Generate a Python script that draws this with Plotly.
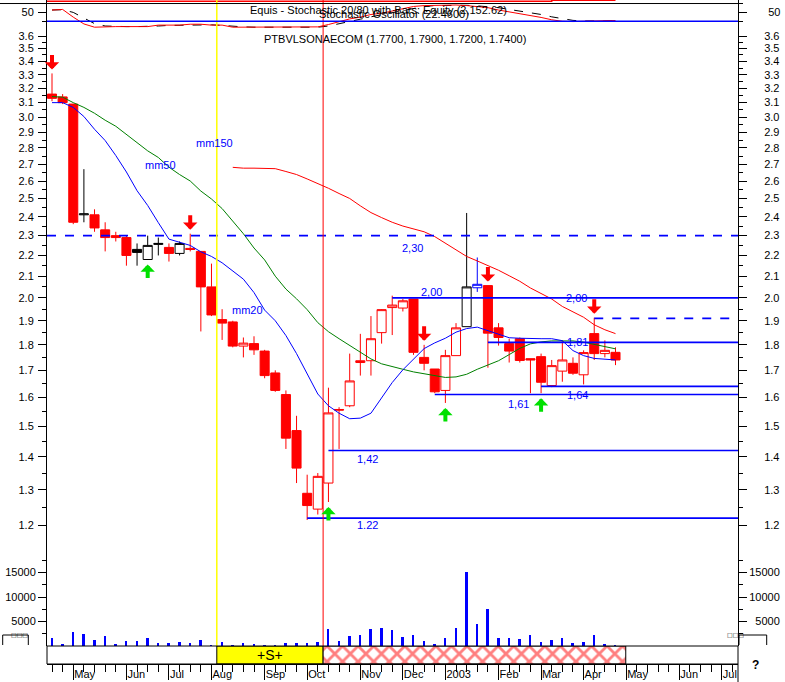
import numpy as np
import pandas as pd
import plotly.graph_objects as go

# ---------------- data ----------------
week_dates = pd.date_range("2002-04-19", periods=54, freq="7D")

open_px = [3.16, 3.14, 3.09, 2.41, 2.41, 2.33, 2.30, 2.29, 2.23, 2.18,
           2.255, 2.24, 2.21, 2.235, 2.22, 2.05, 1.905, 1.895, 1.795, 1.805,
           1.775, 1.69, 1.61, 1.485, 1.29, 1.245, 1.32, 1.557, 1.57, 1.73,
           1.737, 1.85, 1.957, 1.955, 1.995, 1.75, 1.705, 1.625, 1.757, 1.875,
           2.046, 2.056, 1.87, 1.805, 1.825, 1.745, 1.753, 1.643, 1.697, 1.727,
           1.683, 1.846, 1.765, 1.77]
high_px = [3.31, 3.16, 3.09, 2.67, 2.44, 2.37, 2.32, 2.30, 2.26, 2.30,
           2.29, 2.26, 2.27, 2.31, 2.22, 2.16, 1.95, 1.90, 1.83, 1.835,
           1.78, 1.70, 1.625, 1.535, 1.345, 1.35, 1.635, 1.565, 1.765, 1.845,
           1.92, 1.95, 2.01, 1.995, 1.995, 1.80, 1.705, 1.78, 1.89, 2.42,
           2.19, 2.056, 1.89, 1.825, 1.83, 1.745, 1.765, 1.74, 1.818, 1.75,
           1.778, 1.913, 1.818, 1.79]
low_px = [3.11, 3.09, 2.36, 2.37, 2.32, 2.22, 2.27, 2.15, 2.15, 2.18,
          2.20, 2.17, 2.20, 2.22, 1.855, 1.92, 1.82, 1.79, 1.75, 1.76,
          1.67, 1.62, 1.425, 1.32, 1.215, 1.23, 1.265, 1.425, 1.565, 1.68,
          1.68, 1.805, 1.84, 1.94, 1.76, 1.70, 1.615, 1.58, 1.757, 1.875,
          2.027, 1.71, 1.797, 1.73, 1.73, 1.615, 1.615, 1.637, 1.657, 1.683,
          1.647, 1.74, 1.75, 1.72]
close_px = [3.13, 3.10, 2.37, 2.415, 2.34, 2.29, 2.29, 2.20, 2.215, 2.25,
            2.26, 2.21, 2.26, 2.23, 2.05, 1.925, 1.89, 1.795, 1.807, 1.78,
            1.68, 1.625, 1.46, 1.365, 1.255, 1.34, 1.545, 1.555, 1.66, 1.737,
            1.825, 1.948, 1.968, 1.987, 1.77, 1.727, 1.62, 1.757, 1.87, 2.05,
            2.062, 1.848, 1.83, 1.775, 1.738, 1.74, 1.655, 1.718, 1.74, 1.689,
            1.769, 1.765, 1.778, 1.74]
candle_group = ["red", "red", "red", "black", "red", "red", "red", "red", "black", "black",
                "black", "red", "black", "red", "red", "red", "red", "red", "red", "red",
                "red", "red", "red", "red", "red", "red", "red", "red", "red", "red",
                "red", "red", "red", "red", "red", "red", "red", "red", "red", "black",
                "blue", "red", "red", "red", "red", "red", "red", "red", "red", "red",
                "red", "red", "red", "red"]

volume = [1700, 400, 2950, 2450, 1150, 2050, 350, 950, 1000, 1650,
          550, 550, 750, 600, 1250, 200, 800, 200, 600, 400,
          200, 200, 600, 550, 600, 800, 3500, 1000, 2050, 2250,
          3500, 3700, 3300, 1800, 2250, 950, 350, 1550, 3650, 15150,
          4450, 7550, 1550, 1550, 1350, 2250, 800, 1150, 1550, 600,
          750, 2250, 350, 150]

mm20 = [3.10, 3.10, 3.067, 3.005, 2.92, 2.847, 2.753, 2.653, 2.544, 2.461,
        2.368, 2.282, 2.266, 2.25, 2.218, 2.195, 2.164, 2.124, 2.086, 2.024,
        1.946, 1.90, 1.838, 1.765, 1.688, 1.612, 1.57, 1.544, 1.525, 1.527,
        1.544, 1.596, 1.654, 1.702, 1.742, 1.785, 1.808, 1.827, 1.852, 1.867,
        1.873, 1.858, 1.846, 1.829, 1.827, 1.825, 1.825, 1.825, 1.817, 1.777,
        1.757, 1.746, 1.742, 1.74]
mm50 = [3.143, 3.138, 3.10, 3.067, 3.027, 2.98, 2.94, 2.887, 2.831, 2.782,
        2.741, 2.682, 2.638, 2.60, 2.542, 2.497, 2.444, 2.379, 2.31, 2.237,
        2.178, 2.10, 2.04, 1.996, 1.948, 1.892, 1.854, 1.825, 1.797, 1.769,
        1.744, 1.725, 1.713, 1.704, 1.694, 1.687, 1.679, 1.673, 1.675, 1.685,
        1.704, 1.719, 1.737, 1.761, 1.786, 1.804, 1.812, 1.816, 1.817, 1.816,
        1.811, 1.802, 1.793, 1.784]
mm150 = [None] * 17 + [
        2.681, 2.676, 2.676, 2.676, 2.673, 2.656, 2.638, 2.612, 2.586, 2.558,
        2.528, 2.50, 2.459, 2.422, 2.395, 2.37, 2.35, 2.335, 2.32, 2.295,
        2.26, 2.227, 2.195, 2.173, 2.151, 2.128, 2.102, 2.076, 2.045, 2.019,
        1.995, 1.962, 1.939, 1.915, 1.883, 1.862, 1.846]

stoch_k = [58, 60, 34, 11, 0, 2, 2, 2, 2, 2,
           7, 7, 7, 10, 10, 7, 7, 0, 0, 0,
           0, 0, 0, 0, 0, 1, 9, 19, 28, 34,
           43, 47, 55, 64, 70, 73, 74, 75, 75, 73,
           70, 66, 58, 52, 47, 41, 33, 25, 20, 19,
           19, 21, 22, 22.46]
stoch_d = [58, 59, 50, 30, 12, 4, 2, 2, 2, 2,
           4, 6, 7, 8, 9, 8, 6, 3, 1, 0,
           0, 0, 0, 0, 0, 0, 4, 11, 19, 27,
           35, 42, 50, 58, 65, 70, 73, 74, 75, 74,
           72, 70, 66, 60, 55, 49, 43, 35, 28, 23,
           21, 20, 21, 22]
stoch_levels = [20, 80]
equity = [2100] * 47 + [2152.62] * 7

sell_idx = [0, 13, 35, 41, 51]
buy_idx = [9, 26, 37, 46]

level_price = [2.30, 2.00, 1.91, 1.81, 1.64, 1.61, 1.42, 1.22]
level_start = ["2002-04-15 17:00", "2002-11-29", "2003-04-11", "2003-01-31",
               "2003-03-07", "2002-12-27", "2002-10-18", "2002-10-04"]
level_text = ["2,30", "2,00", "", "1,81", "1,64", "1,61", "1,42", "1.22"]

band_yellow = ["2002-08-05 12:00", "2002-10-14 12:00"]
band_hatch = ["2002-10-14 12:00", "2003-05-01 18:00"]

month_tick_dates = ["2002-05-03", "2002-06-07", "2002-07-05", "2002-08-02", "2002-09-06",
                    "2002-10-04", "2002-11-08", "2002-12-06", "2003-01-03", "2003-02-07",
                    "2003-03-07", "2003-04-04", "2003-05-02", "2003-06-06", "2003-07-04"]
month_tick_labels = ["May", "Jun", "Jul", "Aug", "Sep", "Oct", "Nov", "Dec", "2003",
                     "Feb", "Mar", "Apr", "May", "Jun", "Jul"]
price_ticks = [1.2, 1.3, 1.4, 1.5, 1.6, 1.7, 1.8, 1.9, 2.0, 2.1, 2.2, 2.3, 2.4,
               2.5, 2.6, 2.7, 2.8, 2.9, 3.0, 3.1, 3.2, 3.3, 3.4, 3.5, 3.6]
price_minor = [1.25, 1.35, 1.45, 1.55, 1.65, 1.75, 1.85, 1.95, 2.05, 2.15, 2.25, 2.35,
               2.45, 2.55, 2.65, 2.75, 2.85, 2.95, 3.05, 3.15, 3.25, 3.35, 3.45, 3.55]
volume_ticks = [5000, 10000, 15000]
volume_minor = [2500, 7500, 12500, 17500]

# ---------------- figure ----------------
X_START, X_END = "2002-04-15 17:00", "2003-07-14 15:36"
FONT = "Liberation Sans, Arial, sans-serif"
RED, BLUE, GREEN, LIME = "#FF0000", "#0000FF", "#008000", "#00E000"
DAY = 86400000

fig = go.Figure()

styles = {"red": RED, "black": "#000000", "blue": BLUE}
for grp, col in styles.items():
    idx = [i for i, g in enumerate(candle_group) if g == grp]
    fig.add_trace(go.Candlestick(
        x=[week_dates[i] for i in idx],
        open=[open_px[i] for i in idx], high=[high_px[i] for i in idx],
        low=[low_px[i] for i in idx], close=[close_px[i] for i in idx],
        increasing=dict(line=dict(color=col, width=1), fillcolor="white"),
        decreasing=dict(line=dict(color=col, width=1), fillcolor=col),
        whiskerwidth=0, hoverinfo="skip", xaxis="x", yaxis="y"))

# moving averages and levels on the right price axis (drawn above candles)
for vals, col in [(mm150, RED), (mm50, GREEN), (mm20, BLUE)]:
    fig.add_trace(go.Scatter(x=week_dates, y=vals, mode="lines",
                             line=dict(color=col, width=1), yaxis="y5", hoverinfo="skip"))

dashed_levels = {2.30, 1.91}
for p, s in zip(level_price, level_start):
    fig.add_trace(go.Scatter(x=[s, X_END], y=[p, p], mode="lines",
                             line=dict(color=BLUE, width=1.6,
                                       dash="dash" if p in dashed_levels else "solid"),
                             yaxis="y5", hoverinfo="skip"))

# volume
fig.add_trace(go.Bar(x=week_dates, y=volume, width=1.3 * DAY, marker=dict(color=BLUE, line=dict(width=0)),
                     yaxis="y2", hoverinfo="skip"))
fig.add_trace(go.Scatter(x=[week_dates[0]], y=[0], mode="markers", marker=dict(opacity=0),
                         yaxis="y6", hoverinfo="skip"))

# stochastic strip
fig.add_trace(go.Scatter(x=week_dates, y=stoch_d, mode="lines",
                         line=dict(color="black", width=1, dash="dash"), yaxis="y3", hoverinfo="skip"))
fig.add_trace(go.Scatter(x=week_dates, y=stoch_k, mode="lines",
                         line=dict(color=RED, width=1), yaxis="y3", hoverinfo="skip"))
fig.add_trace(go.Scatter(x=[week_dates[0]], y=[50], mode="markers", marker=dict(opacity=0),
                         yaxis="y7", hoverinfo="skip"))
fig.add_trace(go.Scatter(x=[X_START] + list(week_dates), y=[equity[0]] + equity, mode="lines",
                         line=dict(color=RED, width=1.5, shape="hv"), yaxis="y8", hoverinfo="skip"))

# expert band
fig.add_trace(go.Scatter(x=[band_yellow[0], band_yellow[1], band_yellow[1], band_yellow[0], band_yellow[0]],
                         y=[0, 0, 1, 1, 0], fill="toself", fillcolor="#FFFF00", mode="lines",
                         line=dict(color="black", width=1), yaxis="y4", hoverinfo="skip"))
fig.add_trace(go.Scatter(x=[band_hatch[0], band_hatch[1], band_hatch[1], band_hatch[0], band_hatch[0]],
                         y=[0, 0, 1, 1, 0], fill="toself", fillcolor="white", mode="lines",
                         fillpattern=dict(shape="x", fgcolor=RED, bgcolor="white", size=11, solidity=0.45),
                         line=dict(color="black", width=1), yaxis="y4", hoverinfo="skip"))

# ---------------- annotations ----------------
ann = []
for i in sell_idx:
    ann.append(dict(x=week_dates[i].strftime("%Y-%m-%d"), y=np.log10(high_px[i]), xref="x", yref="y",
                    text="", showarrow=True, ax=0, ay=-20, standoff=4, arrowhead=1,
                    arrowsize=0.6, arrowwidth=4, arrowcolor=RED))
for i in buy_idx:
    ann.append(dict(x=week_dates[i].strftime("%Y-%m-%d"), y=np.log10(low_px[i]), xref="x", yref="y",
                    text="", showarrow=True, ax=0, ay=20, standoff=5, arrowhead=1,
                    arrowsize=0.6, arrowwidth=4, arrowcolor=LIME))


def wdate(f):
    return (week_dates[0] + pd.Timedelta(days=7 * f)).strftime("%Y-%m-%d %H:%M")


label_place = {"2,30": (33.86, -12), "2,00": (49.29, 0), "1,81": (49.47, 0), "1,64": (49.4, -9),
               "1,61": (43.92, -9), "1,42": (29.63, -8), "1.22": (29.63, -7)}
lab_font = dict(family=FONT, size=11, color=BLUE)
for p, t in zip(level_price, level_text):
    if t:
        f, ys = label_place[t]
        ann.append(dict(x=wdate(f), y=np.log10(p), xref="x", yref="y", text=t, showarrow=False,
                        yshift=ys, font=lab_font))
ann.append(dict(x=wdate(35.65), y=np.log10(2.00), xref="x", yref="y", text="2,00", showarrow=False,
                yshift=6, font=lab_font))
for t, f, p in [("mm50", 10.16, 2.695), ("mm150", 15.33, 2.831), ("mm20", 18.43, 1.947)]:
    ann.append(dict(x=wdate(f), y=np.log10(p), xref="x", yref="y", text=t, showarrow=False, font=lab_font))

txt_font = dict(family=FONT, size=11, color="black")
ann += [
    dict(x=(248 - 47) / 691, y=(664 - 10) / 664, xref="paper", yref="paper", xanchor="left",
         yanchor="middle", showarrow=False, font=txt_font,
         text="Equis - Stochastic 20/80 with Bars: Equity (2,152.62)"),
    dict(x=(317 - 47) / 691, y=(664 - 13.5) / 664, xref="paper", yref="paper", xanchor="left",
         yanchor="middle", showarrow=False, font=txt_font, text="Stochastic Oscillator (22.4600)"),
    dict(x=(262 - 47) / 691, y=(664 - 39) / 664, xref="paper", yref="paper", xanchor="left",
         yanchor="middle", showarrow=False, font=txt_font,
         text="PTBVLSONAECOM (1.7700, 1.7900, 1.7200, 1.7400)"),
    dict(x=(pd.Timestamp(band_yellow[0]) + (pd.Timestamp(band_yellow[1]) - pd.Timestamp(band_yellow[0])) / 2
            ).strftime("%Y-%m-%d %H:%M"), y=0.5, xref="x", yref="y4", text="+S+", showarrow=False,
         font=dict(family=FONT, size=14, color="black")),
    dict(x=(760.5 - 47) / 691, y=(664 - 674) / 664, xref="paper", yref="paper", text="<b>?</b>",
         showarrow=False, font=dict(family=FONT, size=12, color="black")),
    dict(x=(9 - 47) / 691, y=(664 - 640) / 664, xref="paper", yref="paper", text="□□□",
         showarrow=False, font=dict(family="DejaVu Sans", size=6, color="black")),
    dict(x=(746 - 47) / 691, y=(664 - 640) / 664, xref="paper", yref="paper", text="□□□",
         showarrow=False, font=dict(family="DejaVu Sans", size=6, color="black")),
]


def px(xp):
    return (xp - 47) / 691


def py(yp):
    return (664 - yp) / 664


shapes = [
    dict(type="line", xref="x", yref="paper", x0=band_yellow[0], x1=band_yellow[0],
         y0=py(646), y1=1, line=dict(color="#FFFF00", width=1.5)),
    dict(type="line", xref="x", yref="paper", x0=band_yellow[1], x1=band_yellow[1],
         y0=py(646), y1=1, line=dict(color=RED, width=1)),
    dict(type="rect", xref="paper", yref="paper", x0=0, x1=1, y0=0, y1=py(646),
         line=dict(color="black", width=1)),
    dict(type="line", xref="paper", yref="y3", x0=px(0), x1=1, y0=stoch_levels[1], y1=stoch_levels[1],
         line=dict(color="black", width=1)),
    dict(type="line", xref="paper", yref="y3", x0=0, x1=1, y0=stoch_levels[0], y1=stoch_levels[0],
         line=dict(color=BLUE, width=1.5)),
    dict(type="line", xref="paper", yref="paper", x0=1, x1=1, y0=0, y1=py(682),
         line=dict(color="black", width=1)),
    dict(type="path", xref="paper", yref="paper",
         path=f"M{px(2.7)},{py(645)} L{px(2.7)},{py(635)} L{px(28.3)},{py(635)} L{px(28.3)},{py(645)}",
         line=dict(color="black", width=1)),
    dict(type="path", xref="paper", yref="paper",
         path=f"M{px(739)},{py(645)} L{px(739)},{py(635)} L{px(766.7)},{py(635)} L{px(766.7)},{py(645)}",
         line=dict(color="black", width=1)),
]

axis_font = dict(family=FONT, size=11, color="black")
cy = dict(showgrid=False, zeroline=False, showline=True, linecolor="black", linewidth=1,
          ticks="outside", ticklen=8, tickcolor="black", tickfont=axis_font, fixedrange=True)
PRICE_RANGE = [0.05727, 0.59139]
price_text = [f"{v:.1f}" for v in price_ticks]
vol_text = [str(v) for v in volume_ticks]

fig.update_layout(
    width=785, height=682, margin=dict(l=47, r=47, t=0, b=18, autoexpand=False),
    paper_bgcolor="white", plot_bgcolor="white", showlegend=False, hovermode=False,
    boxgap=0.15, boxgroupgap=0, bargap=0,
    xaxis=dict(type="date", range=[X_START, X_END], anchor="free", position=0,
               showgrid=False, zeroline=False, showline=True, linecolor="black", linewidth=1,
               ticks="outside", ticklen=15, tickcolor="black",
               tickvals=month_tick_dates, ticktext=month_tick_labels,
               ticklabelposition="outside right", ticklabelstandoff=0, tickfont=axis_font,
               minor=dict(ticks="outside", ticklen=7, tickcolor="black",
                          dtick=7 * DAY, tick0="2002-04-19", showgrid=False),
               rangeslider=dict(visible=False), fixedrange=True),
    yaxis=dict(cy, domain=[py(548), 1], type="log", range=PRICE_RANGE, anchor="x",
               tickvals=price_ticks, ticktext=price_text, ticklabelstandoff=2,
               minor=dict(tickvals=price_minor, ticks="outside", ticklen=4, tickcolor="black")),
    yaxis5=dict(cy, overlaying="y", side="right", type="log", range=PRICE_RANGE, anchor="x",
                tickvals=price_ticks, ticktext=price_text, ticklabelstandoff=15,
                minor=dict(tickvals=price_minor, ticks="outside", ticklen=4, tickcolor="black")),
    yaxis2=dict(cy, domain=[py(646), py(548)], range=[0, 20000], anchor="x",
                tickvals=volume_ticks, ticktext=vol_text, ticklabelstandoff=0,
                minor=dict(tickvals=volume_minor, ticks="outside", ticklen=4, tickcolor="black")),
    yaxis6=dict(cy, overlaying="y2", side="right", range=[0, 20000], anchor="x",
                tickvals=volume_ticks, ticktext=["\u00a0\u00a05000", "10000", "15000"], ticklabelstandoff=0,
                minor=dict(tickvals=volume_minor, ticks="outside", ticklen=4, tickcolor="black")),
    yaxis3=dict(cy, domain=[py(30), 1], range=[-9.5, 91.9], anchor="x",
                tickvals=[50], ticktext=["50"], ticklabelstandoff=2,
                minor=dict(tickvals=[20, 80], ticks="outside", ticklen=4, tickcolor="black")),
    yaxis7=dict(cy, overlaying="y3", side="right", range=[-9.5, 91.9], anchor="x",
                tickvals=[50], ticktext=["50"], ticklabelstandoff=19,
                minor=dict(tickvals=[20, 80], ticks="outside", ticklen=4, tickcolor="black")),
    yaxis8=dict(overlaying="y3", range=[590, 2168], visible=False, fixedrange=True),
    yaxis4=dict(domain=[0, py(646)], range=[0, 1], visible=False, anchor="x", fixedrange=True),
    annotations=ann, shapes=shapes,
)

fig.write_html("out.html", config={"displayModeBar": False},
               post_script="document.body.style.margin='0px';")
